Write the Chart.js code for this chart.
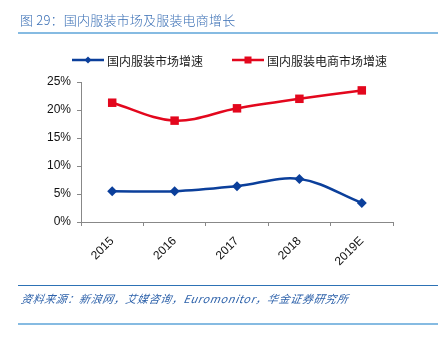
<!DOCTYPE html>
<html>
<head>
<meta charset="utf-8">
<script src="https://cdn.jsdelivr.net/npm/chart.js@4/dist/chart.umd.min.js"></script>
<style>
  html, body { margin: 0; padding: 0; background: #fff; }
  body { width: 438px; height: 345px; position: relative; overflow: hidden; }
  #title { position: absolute; left: 20px; top: 10px; font: 300 13px "Noto Sans CJK SC", sans-serif; color: #3a6fb5; letter-spacing: 0.2px; white-space: nowrap; }
  #rule1 { position: absolute; left: 18px; top: 32px; width: 420px; height: 2px; background: #86bbe2; }
  #rule2 { position: absolute; left: 18px; top: 285px; width: 420px; height: 1px; background: #2d72b5; }
  #rule3 { position: absolute; left: 18px; top: 323px; width: 420px; height: 2px; background: #86bbe2; }
  #source { position: absolute; left: 20px; top: 290px; font: italic 11px "Noto Sans CJK SC", serif; color: #2f63ab; letter-spacing: 0.6px; white-space: nowrap; transform: skewX(-10deg); transform-origin: left bottom; }
  #wrap { position: absolute; left: 0; top: 0; width: 438px; height: 345px; }
</style>
</head>
<body>
<div id="wrap"><canvas id="c" width="438" height="345"></canvas></div>
<div id="title">图 29：国内服装市场及服装电商增长</div>
<div id="rule1"></div>
<div id="rule2"></div>
<div id="source">资料来源：新浪网，艾媒咨询，Euromonitor，华金证券研究所</div>
<div id="rule3"></div>
<script>
// Years on the category axis
const categories = ['2015', '2016', '2017', '2018', '2019E'];
// Growth rates, in percent
const apparelMarketGrowth = [5.5, 5.5, 6.4, 7.7, 3.4];
const apparelEcomGrowth = [21.3, 18.1, 20.3, 22.0, 23.5];
const yTickValues = [0, 5, 10, 15, 20, 25];

const BLUE = '#0b3f9b';
const RED = '#e3071d';

// Legend drawn in a single row above the plot
const legendPlugin = {
  id: 'rowLegend',
  afterDraw(chart) {
    const ctx = chart.ctx;
    const items = [
      { x: 72, label: '国内服装市场增速', ds: chart.data.datasets[0] },
      { x: 232, label: '国内服装电商市场增速', ds: chart.data.datasets[1] }
    ];
    const y = 60;
    ctx.save();
    items.forEach(it => {
      ctx.strokeStyle = it.ds.borderColor;
      ctx.lineWidth = 2.5;
      ctx.beginPath();
      ctx.moveTo(it.x, y);
      ctx.lineTo(it.x + 32, y);
      ctx.stroke();
      ctx.fillStyle = it.ds.borderColor;
      const cx = it.x + 16;
      if (it.ds.pointStyle === 'rectRot') {
        ctx.beginPath();
        ctx.moveTo(cx, y - 3.5); ctx.lineTo(cx + 3.5, y); ctx.lineTo(cx, y + 3.5); ctx.lineTo(cx - 3.5, y);
        ctx.closePath(); ctx.fill();
      } else {
        ctx.fillRect(cx - 3.5, y - 3.5, 7, 7);
      }
      ctx.fillStyle = '#222';
      ctx.font = '12px "Noto Sans CJK SC", sans-serif';
      ctx.textBaseline = 'middle';
      ctx.fillText(it.label, it.x + 35, y + 1);
    });
    ctx.restore();
  }
};

new Chart(document.getElementById('c'), {
  type: 'line',
  data: {
    labels: categories,
    datasets: [
      {
        label: '国内服装市场增速',
        data: apparelMarketGrowth,
        borderColor: BLUE,
        backgroundColor: BLUE,
        borderWidth: 2.5,
        pointStyle: 'rectRot',
        pointRadius: 5,
        pointBorderWidth: 0,
        tension: 0.35
      },
      {
        label: '国内服装电商市场增速',
        data: apparelEcomGrowth,
        borderColor: RED,
        backgroundColor: RED,
        borderWidth: 2.5,
        pointStyle: 'rect',
        pointRadius: 6,
        pointBorderWidth: 0,
        tension: 0.35
      }
    ]
  },
  options: {
    responsive: false,
    animation: false,
    layout: { padding: { left: 0, top: 82, right: 45, bottom: 0 } },
    plugins: { legend: { display: false }, tooltip: { enabled: false } },
    scales: {
      x: {
        offset: true,
        afterFit(scale) { scale.height = 123; },
        grid: { display: true, drawOnChartArea: false, offset: true, tickLength: 4, color: '#888' },
        border: { color: '#888', width: 1 },
        ticks: {
          minRotation: 45, maxRotation: 45, padding: 8,
          color: '#111', font: { family: 'Liberation Sans, Arial', size: 12 }
        }
      },
      y: {
        min: 0, max: 25,
        afterFit(scale) { scale.width = 81; },
        afterBuildTicks(scale) { scale.ticks = yTickValues.map(v => ({ value: v })); },
        grid: { display: true, drawOnChartArea: false, tickLength: 4, color: '#888' },
        border: { color: '#888', width: 1 },
        ticks: {
          padding: 6,
          color: '#111', font: { family: 'Liberation Sans, Arial', size: 12 },
          callback: v => v + '%'
        }
      }
    }
  },
  plugins: [legendPlugin]
});
</script>
</body>
</html>
